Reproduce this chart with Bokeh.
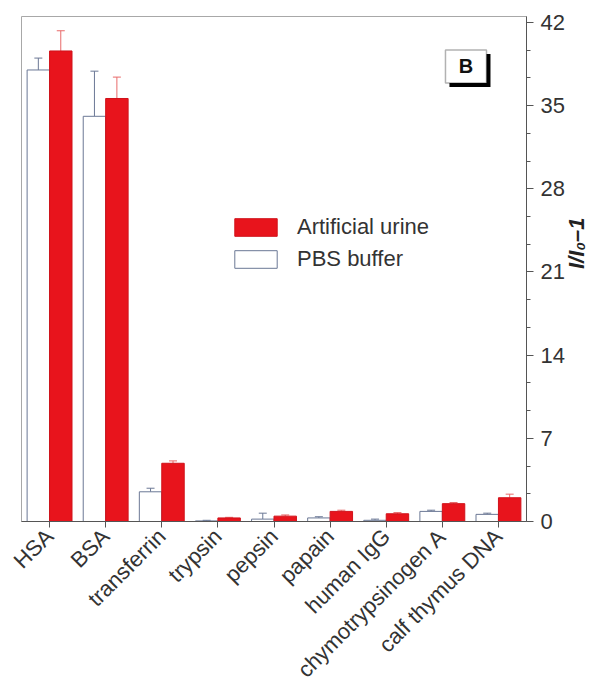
from math import pi

from bokeh.embed import file_html
from bokeh.models import (BoxAnnotation, ColumnDataSource, FactorRange, FixedTicker,
                          Label, Legend, LegendItem, TeeHead, Whisker)
from bokeh.plotting import figure
from bokeh.resources import INLINE
from bokeh.transform import dodge

# Relative fluorescence response (I/I0 - 1) of the probe towards each analyte
analytes = ["HSA", "BSA", "transferrin", "trypsin", "pepsin", "papain",
            "human IgG", "chymotrypsinogen A", "calf thymus DNA"]
pbs_buffer = [38.0, 34.1, 2.5, 0.05, 0.2, 0.3, 0.1, 0.85, 0.6]
pbs_err = [1.0, 3.8, 0.3, 0.05, 0.5, 0.1, 0.1, 0.1, 0.1]
artificial_urine = [39.6, 35.6, 4.9, 0.3, 0.45, 0.85, 0.65, 1.5, 2.0]
urine_err = [1.7, 1.8, 0.2, 0.05, 0.1, 0.1, 0.1, 0.1, 0.3]
y_ticks = [0, 7, 14, 21, 28, 35, 42]

FONT = "Liberation Sans"
RED = "#e8141c"
SLATE = "#6b7895"

src = ColumnDataSource(dict(
    analyte=analytes,
    pbs=pbs_buffer,
    pbs_hi=[v + e for v, e in zip(pbs_buffer, pbs_err)],
    urine=artificial_urine,
    urine_hi=[v + e for v, e in zip(artificial_urine, urine_err)],
))

p = figure(width=606, height=697, output_backend="svg", toolbar_location=None,
           x_range=FactorRange(*analytes, range_padding=0), y_range=(0, 42.5),
           y_axis_location="right", min_border_left=21, min_border_right=80,
           min_border_top=16, min_border_bottom=176)
p.grid.visible = False
p.outline_line_color = "#a8a8a8"
p.outline_line_width = 1
p.background_fill_color = "white"
p.border_fill_color = "white"

pbs_r = p.vbar(x=dodge("analyte", -0.2, range=p.x_range), top="pbs", width=0.4,
               source=src, fill_color="white", line_color=SLATE, line_width=1)
urine_r = p.vbar(x=dodge("analyte", 0.2, range=p.x_range), top="urine", width=0.4,
                 source=src, fill_color=RED, line_color="#d0121a", line_width=1)

# upper error bars only
p.add_layout(Whisker(base=dodge("analyte", -0.2, range=p.x_range), lower="pbs",
                     upper="pbs_hi", source=src, line_color=SLATE, line_width=1,
                     lower_head=None,
                     upper_head=TeeHead(size=8, line_color=SLATE, line_width=1)))
p.add_layout(Whisker(base=dodge("analyte", 0.2, range=p.x_range), lower="urine",
                     upper="urine_hi", source=src, line_color="#e86a6a", line_width=1,
                     lower_head=None,
                     upper_head=TeeHead(size=8, line_color="#e86a6a", line_width=1)))

# right value axis
ya = p.yaxis[0]
ya.ticker = FixedTicker(ticks=y_ticks,
                        minor_ticks=[t + k * 7 / 3 for t in y_ticks[:-1] for k in (1, 2)])
ya.axis_line_color = "#555555"
ya.major_tick_line_color = "#555555"
ya.minor_tick_line_color = "#555555"
ya.major_tick_out = 7
ya.major_tick_in = 0
ya.minor_tick_out = 4
ya.minor_tick_in = 0
ya.major_label_text_font = FONT
ya.major_label_text_font_size = "22px"
ya.major_label_text_color = "#333333"
ya.major_label_standoff = 7
ya.axis_label = "I/I\u2080\u20131"
ya.axis_label_text_font = FONT
ya.axis_label_text_font_size = "22px"
ya.axis_label_text_font_style = "bold italic"
ya.axis_label_text_color = "#222222"
ya.axis_label_text_line_height = 0.8
ya.axis_label_text_baseline = "middle"
ya.axis_label_standoff = 9
ya.axis_label_orientation = pi / 2

# category axis
xa = p.xaxis[0]
xa.axis_line_color = "#555555"
xa.major_tick_line_color = "#555555"
xa.major_tick_out = 6
xa.major_tick_in = 0
xa.minor_tick_line_color = None
xa.major_label_orientation = pi / 4
xa.major_label_text_font = FONT
xa.major_label_text_font_size = "22px"
xa.major_label_text_color = "#333333"
xa.major_label_standoff = 5

# panel tag "B" with drop shadow
p.add_layout(BoxAnnotation(left=7.627, right=8.358, bottom=36.56, top=39.34,
                           fill_color="black", fill_alpha=1, line_color=None))
p.add_layout(BoxAnnotation(left=7.556, right=8.287, bottom=36.90, top=39.68,
                           fill_color="white", fill_alpha=1, line_color="black",
                           line_width=1.5))
p.add_layout(Label(x=7.92, y=38.3, text="B", text_align="center",
                   text_baseline="middle", text_font=FONT, text_font_size="20px",
                   text_font_style="bold", text_color="#111111"))

legend = Legend(items=[LegendItem(label="Artificial urine", renderers=[urine_r]),
                       LegendItem(label="PBS buffer", renderers=[pbs_r])],
                location=(208, 249), orientation="vertical",
                glyph_width=53, glyph_height=22, label_height=22, spacing=6,
                padding=0, margin=0, label_standoff=15,
                label_text_font=FONT, label_text_font_size="22px",
                label_text_color="#333333", border_line_color=None,
                background_fill_alpha=0)
p.add_layout(legend, "center")

open("out.html", "w").write(file_html(p, INLINE))
